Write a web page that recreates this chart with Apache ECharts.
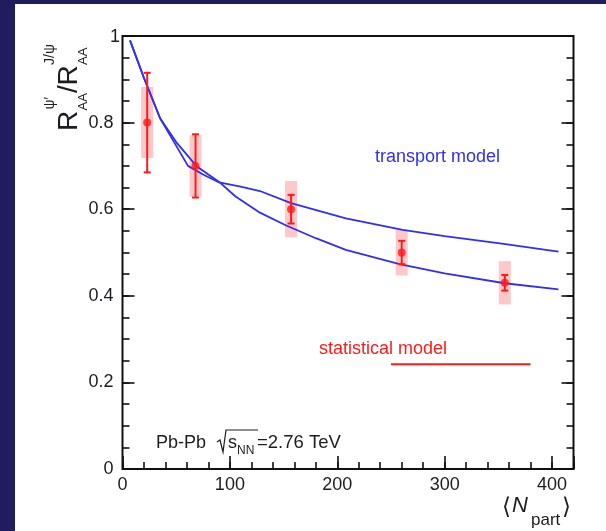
<!DOCTYPE html>
<html>
<head>
<meta charset="utf-8">
<script src="https://cdn.jsdelivr.net/npm/echarts@6/dist/echarts.min.js"></script>
<style>
  html, body { margin: 0; padding: 0; width: 606px; height: 531px; background: #201d5e; overflow: hidden; }
  #panel { position: absolute; left: 15px; top: 4px; width: 591px; height: 527px; background: #ffffff; }
</style>
</head>
<body>
<div id="panel"></div>
<script>
// Measured psi(2S)/J/psi double ratio versus centrality
const nPart   = [23, 68, 157, 260, 356];
const ratio   = [0.80, 0.70, 0.60, 0.50, 0.43];
const statErr = [0.115, 0.073, 0.033, 0.027, 0.018];
const sysErr  = [0.082, 0.071, 0.065, 0.053, 0.050];

// Transport model, two curves
const trUpperX = [7, 20, 35, 48, 61, 75, 90, 110, 128, 157, 208, 261, 300, 355, 406];
const trUpperY = [0.99, 0.903, 0.81, 0.755, 0.70, 0.68, 0.662, 0.652, 0.642, 0.614, 0.579, 0.552, 0.538, 0.52, 0.502];
const trLowerX = [7, 20, 35, 50, 68.7, 80, 90, 105, 128, 152, 180, 208, 258, 300, 356, 406];
const trLowerY = [0.99, 0.903, 0.81, 0.755, 0.70, 0.68, 0.663, 0.63, 0.592, 0.563, 0.533, 0.506, 0.473, 0.452, 0.429, 0.415];

// Statistical model (flat prediction over the central range)
const statModelX = [250, 380];
const statModelY = [0.242, 0.242];

// Axis ranges and tick steps
const xRange = [0, 420];
const yRange = [0, 1];
const xMajor = 100, xMinor = 20;
const yMajor = 0.2, yMinor = 0.05;

const zip = (a, b) => a.map((v, i) => [v, b[i]]);

const FONT = "'Liberation Sans', Arial, sans-serif";
const INK = '#1c1c22';
const BLUE = '#2f2ff5';
const RED = '#ff1a1a';
const PINK = '#ffc8c8';

// panel offset inside the page
const OX = 15, OY = 4;

// text placed by its baseline (page coordinates)
function label(text, x, base, size, fill, fontPrefix) {
  return {
    type: 'text',
    x: x - OX,
    y: base - 0.31 * size - OY,
    style: { text: text, font: (fontPrefix || '') + size + 'px ' + FONT, fill: fill, align: 'left', verticalAlign: 'middle' }
  };
}
// text placed by its baseline, local coordinates inside a group
function local(text, x, base, size, fill) {
  return {
    type: 'text', x: x, y: base - 0.31 * size,
    style: { text: text, font: size + 'px ' + FONT, fill: fill, align: 'left', verticalAlign: 'middle' }
  };
}

const chart = echarts.init(document.getElementById('panel'), null, { renderer: 'canvas' });

const tickStyle = { color: '#111', width: 1.6 };

const option = {
  animation: false,
  backgroundColor: '#ffffff',
  grid: {
    left: 107.5, right: 32.5, top: 32, bottom: 62,
    show: true, borderColor: '#111', borderWidth: 2, backgroundColor: 'transparent'
  },
  xAxis: [
    {
      type: 'value', min: xRange[0], max: xRange[1], interval: xMajor, position: 'bottom',
      axisLine: { show: false }, splitLine: { show: false },
      axisTick: { show: true, inside: true, length: 13, lineStyle: tickStyle },
      axisLabel: {
        show: true, margin: 7, fontSize: 18, fontFamily: FONT, color: INK,
        formatter: v => (Math.abs(v % xMajor) < 1e-9 ? String(v) : '')
      }
    },
    {
      type: 'value', min: xRange[0], max: xRange[1], interval: xMinor, position: 'bottom',
      axisLine: { show: false }, splitLine: { show: false },
      axisTick: { show: true, inside: true, length: 7, lineStyle: tickStyle },
      axisLabel: { show: false }
    }
  ],
  yAxis: [
    {
      type: 'value', min: yRange[0], max: yRange[1], interval: yMajor, position: 'left',
      axisLine: { show: false }, splitLine: { show: false },
      axisTick: { show: true, inside: true, length: 12, lineStyle: tickStyle },
      axisLabel: {
        show: true, margin: 9, fontSize: 18, fontFamily: FONT, color: INK,
        // the top label "1" is set closer to the frame as a separate text
        formatter: v => (Math.abs(v) < 1e-9 ? '0' : Math.abs(v - 1) < 1e-9 ? '' : v.toFixed(1))
      }
    },
    {
      type: 'value', min: yRange[0], max: yRange[1], interval: yMinor, position: 'left',
      axisLine: { show: false }, splitLine: { show: false },
      axisTick: { show: true, inside: true, length: 7, lineStyle: tickStyle },
      axisLabel: { show: false }
    },
    {
      type: 'value', min: yRange[0], max: yRange[1], interval: yMajor, position: 'right',
      axisLine: { show: false }, splitLine: { show: false },
      axisTick: { show: true, inside: true, length: 12, lineStyle: tickStyle },
      axisLabel: { show: false }
    },
    {
      type: 'value', min: yRange[0], max: yRange[1], interval: yMinor, position: 'right',
      axisLine: { show: false }, splitLine: { show: false },
      axisTick: { show: true, inside: true, length: 7, lineStyle: tickStyle },
      axisLabel: { show: false }
    }
  ],
  series: [
    {
      // systematic uncertainty boxes
      type: 'custom', name: 'syst', z: 1,
      data: nPart.map((x, i) => [x, ratio[i], sysErr[i]]),
      renderItem: (params, api) => {
        const x = api.value(0), y = api.value(1), e = api.value(2);
        const top = api.coord([x, y + e]);
        const bot = api.coord([x, y - e]);
        const w = 12;
        return {
          type: 'rect',
          shape: { x: top[0] - w / 2, y: top[1], width: w, height: bot[1] - top[1] },
          style: { fill: PINK }
        };
      }
    },
    {
      type: 'line', name: 'transport model (a)', z: 2,
      data: zip(trUpperX, trUpperY), showSymbol: false, symbol: 'none',
      lineStyle: { color: BLUE, width: 1.8 }
    },
    {
      type: 'line', name: 'transport model (b)', z: 2,
      data: zip(trLowerX, trLowerY), showSymbol: false, symbol: 'none',
      lineStyle: { color: BLUE, width: 1.8 }
    },
    {
      type: 'line', name: 'statistical model', z: 2,
      data: zip(statModelX, statModelY), showSymbol: false, symbol: 'none',
      lineStyle: { color: RED, width: 2 }
    },
    {
      // statistical error bars
      type: 'custom', name: 'stat', z: 3,
      data: nPart.map((x, i) => [x, ratio[i], statErr[i]]),
      renderItem: (params, api) => {
        const x = api.value(0), y = api.value(1), e = api.value(2);
        const top = api.coord([x, y + e]);
        const bot = api.coord([x, y - e]);
        const c = 3.5;
        const st = { stroke: RED, lineWidth: 2 };
        return {
          type: 'group',
          children: [
            { type: 'line', shape: { x1: top[0], y1: top[1], x2: bot[0], y2: bot[1] }, style: st },
            { type: 'line', shape: { x1: top[0] - c, y1: top[1], x2: top[0] + c, y2: top[1] }, style: st },
            { type: 'line', shape: { x1: bot[0] - c, y1: bot[1], x2: bot[0] + c, y2: bot[1] }, style: st }
          ]
        };
      }
    },
    {
      type: 'scatter', name: 'data', z: 4,
      data: zip(nPart, ratio), symbol: 'circle', symbolSize: 8,
      itemStyle: { color: RED }
    }
  ],
  graphic: [
    // y-axis title, rotated to read bottom-to-top
    {
      type: 'group', x: 78 - OX, y: 131 - OY, rotation: Math.PI / 2,
      children: [
        local('R', 0, 0, 28, INK),
        local('AA', 20.5, 9.5, 13, INK),
        local('\u03C8\u2032', 21.5, -24, 14, INK),
        local('/', 38, 0, 28, INK),
        local('R', 45.5, 0, 28, INK),
        local('AA', 66, 9.5, 13, INK),
        local('J/\u03C8', 66, -24, 14, INK)
      ]
    },
    // top tick label of the y axis
    label('1', 110, 43, 18, INK),
    // x-axis title
    label('\u27E8', 502, 515, 23, INK),
    label('N', 512, 513, 22, INK, 'italic '),
    label('part', 531, 526, 17, INK),
    label('\u27E9', 562, 515, 23, INK),
    // model annotations
    label('transport model', 375, 163, 18, BLUE),
    label('statistical model', 319, 355, 18, RED),
    // collision system
    label('Pb-Pb', 156, 449, 18, INK),
    {
      type: 'polyline',
      shape: { points: [[217 - OX, 442 - OY], [220 - OX, 440 - OY], [223 - OX, 452 - OY], [226 - OX, 430 - OY], [258 - OX, 430 - OY]] },
      style: { stroke: INK, lineWidth: 1.2, fill: null }
    },
    label('s', 228, 449, 18, INK),
    label('NN', 237, 454, 12, INK),
    label('=2.76 TeV', 257, 449, 18.5, INK)
  ]
};

chart.setOption(option);
</script>
</body>
</html>
